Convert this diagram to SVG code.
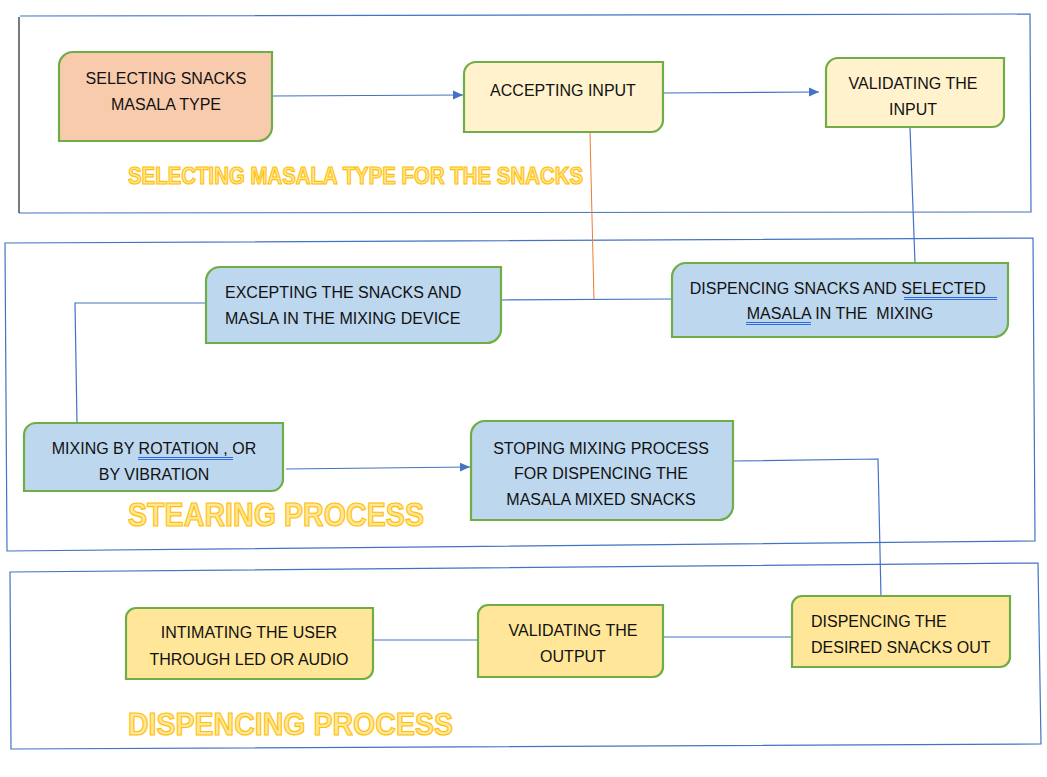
<svg xmlns="http://www.w3.org/2000/svg" width="1047" height="777" viewBox="0 0 1047 777">
<defs>
<marker id="arr" markerWidth="10" markerHeight="10" refX="10" refY="5" orient="auto" markerUnits="userSpaceOnUse">
<path d="M0,0.5 L10,5 L0,9.5 Z" fill="#4472C4"/>
</marker>
<style>
.frame{fill:none;stroke:#4472C4;stroke-width:1.2}
.box{stroke:#70AD47;stroke-width:2.2}
.peach{fill:#F8CBAD}
.cream{fill:#FFF2CC}
.blue{fill:#BDD7EE}
.yel{fill:#FFE699}
.t{font-family:"Liberation Sans",Arial,sans-serif;font-size:16px;fill:#111}
.c{text-anchor:middle}
.title{font-family:"Liberation Sans",Arial,sans-serif;font-weight:bold;fill:#FFE699;stroke:#FFC000;stroke-width:1.2}
.con{fill:none;stroke:#4472C4;stroke-width:1.2}
.ul{stroke:#2F6BE0;stroke-width:1}
</style>
</defs>
<rect width="1047" height="777" fill="#fff"/>
<g id="frames">
<path class="frame" d="M20,16 L1030,14 L1031,212 L19,213"/>
<path d="M19,17 L19,213" stroke="#222" stroke-width="1.2" fill="none"/>
<path class="frame" d="M5,243 L1033,238 L1035,541 L7,551 Z"/>
<path class="frame" d="M10,572 L1038,563 L1041,744 L11,749 Z"/>
</g>
<g id="connectors">
<path class="con" d="M272,96 L463,95" marker-end="url(#arr)"/>
<path class="con" d="M661,93 L819,92" marker-end="url(#arr)"/>
<path d="M590,133 L594,300" fill="none" stroke="#ED7D31" stroke-width="1"/>
<path class="con" d="M910,127 L915,263"/>
<path class="con" d="M672,299 L501,300"/>
<path class="con" d="M206,303 L75,303 L77,423"/>
<path class="con" d="M286,469 L470,467" marker-end="url(#arr)"/>
<path class="con" d="M733,461 L878,459 L881,597"/>
<path class="con" d="M792,637 L663,637"/>
<path class="con" d="M478,640 L373,640"/>
</g>
<g id="title1"><text class="title" x="128" y="184" font-size="24" textLength="455" lengthAdjust="spacingAndGlyphs">SELECTING MASALA TYPE FOR THE SNACKS</text></g>
<g id="title2"><text class="title" x="128" y="526" font-size="33" textLength="296" lengthAdjust="spacingAndGlyphs">STEARING PROCESS</text></g>
<g id="title3"><text class="title" x="128" y="735" font-size="32" textLength="325" lengthAdjust="spacingAndGlyphs">DISPENCING PROCESS</text></g>
<g id="n1">
<path class="box peach" d="M73,52 H272 V127 A14,14 0 0 1 258,141 H59 V66 A14,14 0 0 1 73,52 Z"/>
<text class="t c" x="166" y="84">SELECTING SNACKS</text>
<text class="t c" x="166" y="110">MASALA TYPE</text>
</g>
<g id="n2">
<path class="box cream" d="M476,62 H663 V120 A12,12 0 0 1 651,132 H464 V74 A12,12 0 0 1 476,62 Z"/>
<text class="t c" x="563" y="96">ACCEPTING INPUT</text>
</g>
<g id="n3">
<path class="box cream" d="M838,58 H1004 V115 A12,12 0 0 1 992,127 H826 V70 A12,12 0 0 1 838,58 Z"/>
<text class="t c" x="913" y="89">VALIDATING THE</text>
<text class="t c" x="913" y="115">INPUT</text>
</g>
<g id="n4">
<path class="box blue" d="M220,267 H501 V329 A14,14 0 0 1 487,343 H206 V281 A14,14 0 0 1 220,267 Z"/>
<text class="t" x="225" y="298">EXCEPTING THE SNACKS AND</text>
<text class="t" x="225" y="324">MASLA IN THE MIXING DEVICE</text>
</g>
<g id="n5">
<path class="box blue" d="M686,263 H1008 V323 A14,14 0 0 1 994,337 H672 V277 A14,14 0 0 1 686,263 Z"/>
<text class="t c" x="840" y="294" style="white-space:pre">DISPENCING SNACKS AND SELECTED </text>
<text class="t c" x="840" y="319" style="white-space:pre">MASALA IN THE  MIXING</text>
<path class="ul" d="M904,297.5 H997 M904,299.5 H997 M746,322.5 H811 M746,324.5 H811"/>
</g>
<g id="n6">
<path class="box blue" d="M36,423 H283 V479 A12,12 0 0 1 271,491 H24 V435 A12,12 0 0 1 36,423 Z"/>
<text class="t c" x="154" y="454">MIXING BY ROTATION , OR</text>
<text class="t c" x="154" y="480">BY VIBRATION</text>
<path class="ul" d="M138,457.5 H233 M138,459.5 H233"/>
</g>
<g id="n7">
<path class="box blue" d="M485,421 H733 V506 A14,14 0 0 1 719,520 H471 V435 A14,14 0 0 1 485,421 Z"/>
<text class="t c" x="601" y="454">STOPING MIXING PROCESS</text>
<text class="t c" x="601" y="479">FOR DISPENCING THE</text>
<text class="t c" x="601" y="505">MASALA MIXED SNACKS</text>
</g>
<g id="n8">
<path class="box yel" d="M136,608 H373 V669 A10,10 0 0 1 363,679 H126 V618 A10,10 0 0 1 136,608 Z"/>
<text class="t c" x="249" y="638">INTIMATING THE USER</text>
<text class="t c" x="249" y="665">THROUGH LED OR AUDIO</text>
</g>
<g id="n9">
<path class="box yel" d="M488,605 H663 V667 A10,10 0 0 1 653,677 H478 V615 A10,10 0 0 1 488,605 Z"/>
<text class="t c" x="573" y="636">VALIDATING THE</text>
<text class="t c" x="573" y="662">OUTPUT</text>
</g>
<g id="n10">
<path class="box yel" d="M802,596 H1010 V657 A10,10 0 0 1 1000,667 H792 V606 A10,10 0 0 1 802,596 Z"/>
<text class="t" x="811" y="627">DISPENCING THE</text>
<text class="t" x="811" y="653">DESIRED SNACKS OUT</text>
</g>
</svg>
